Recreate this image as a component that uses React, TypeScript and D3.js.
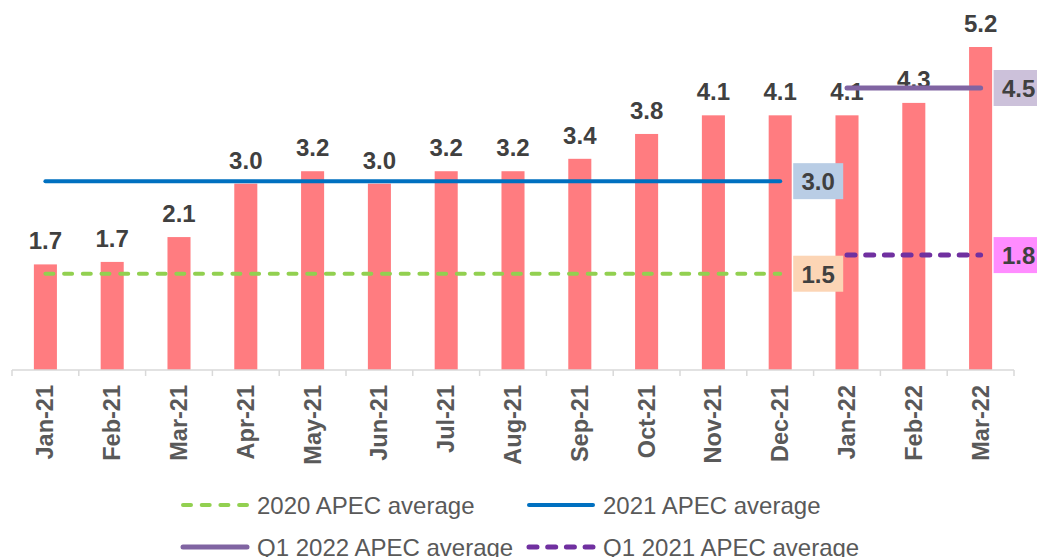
import * as d3 from 'd3';
import { useEffect, useRef } from 'react';

const months = ['Jan-21', 'Feb-21', 'Mar-21', 'Apr-21', 'May-21', 'Jun-21', 'Jul-21', 'Aug-21', 'Sep-21', 'Oct-21', 'Nov-21', 'Dec-21', 'Jan-22', 'Feb-22', 'Mar-22'];
const values = [1.7, 1.74, 2.14, 3.0, 3.2, 3.0, 3.2, 3.2, 3.4, 3.8, 4.1, 4.1, 4.1, 4.3, 5.2];

// average reference lines
const avgNames = ['2020 APEC average', '2021 APEC average', 'Q1 2022 APEC average', 'Q1 2021 APEC average'];
const avgValues = [1.55, 3.04, 4.54, 1.85];
const avgLabels = ['1.5', '3.0', '4.5', '1.8'];
const avgFrom = ['Jan-21', 'Jan-21', 'Jan-22', 'Jan-22'];
const avgTo = ['Dec-21', 'Dec-21', 'Mar-22', 'Mar-22'];

const avgColors = ['#92D050', '#0070C0', '#8064A2', '#7030A0'];
const avgDashed = [true, false, false, true];
const avgWidth = [4, 4, 5, 5];
const boxColors = ['#FCD5B5', '#B9CDE5', '#CCC1DA', '#FF8CFF'];

const FONT = '"Liberation Sans", Arial, sans-serif';

export default function App() {
  const ref = useRef<SVGSVGElement | null>(null);
  useEffect(() => {
    if (!ref.current) return;
    const svg = d3.select(ref.current);
    svg.selectAll('*').remove();
    const width = 1037;
    const height = 557;
    svg.attr('width', width).attr('height', height).attr('viewBox', `0 0 ${width} ${height}`);

    const band = d3.scaleBand<string>().domain(months).range([12, 1014]);
    const barW = band.bandwidth() * 0.345;
    const y = d3.scaleLinear().domain([0, 5.2]).range([370, 47]);
    const cx = (m: string) => (band(m) || 0) + band.bandwidth() / 2;

    // bars
    svg
      .append('g')
      .selectAll('rect')
      .data(months)
      .enter()
      .append('rect')
      .attr('x', (d) => cx(d) - barW / 2)
      .attr('y', (d, i) => y(values[i]))
      .attr('width', barW)
      .attr('height', (d, i) => y(0) - y(values[i]))
      .attr('fill', '#FF7C80');

    // value labels
    svg
      .append('g')
      .selectAll('text')
      .data(months)
      .enter()
      .append('text')
      .attr('x', (d) => cx(d))
      .attr('y', (d, i) => y(values[i]) - 15)
      .attr('text-anchor', 'middle')
      .attr('font-family', FONT)
      .attr('font-weight', 'bold')
      .attr('font-size', 24)
      .attr('fill', '#404040')
      .text((d, i) => values[i].toFixed(1));

    // x axis
    const ax = svg.append('g').attr('transform', `translate(0, ${y(0)})`);
    ax.append('line').attr('x1', 12).attr('x2', 1014).attr('stroke', '#D9D9D9').attr('stroke-width', 1.5);
    const edges = months.map((m) => band(m) || 0).concat([1014]);
    ax.selectAll('line.tick')
      .data(edges)
      .enter()
      .append('line')
      .attr('class', 'tick')
      .attr('x1', (d) => d)
      .attr('x2', (d) => d)
      .attr('y1', 0)
      .attr('y2', 6)
      .attr('stroke', '#D9D9D9')
      .attr('stroke-width', 1.5);
    ax.selectAll('text')
      .data(months)
      .enter()
      .append('text')
      .attr('transform', (d) => `translate(${cx(d) + 8}, 15) rotate(-90)`)
      .attr('text-anchor', 'end')
      .attr('font-family', FONT)
      .attr('font-weight', 'bold')
      .attr('font-size', 23.5)
      .attr('fill', '#595959')
      .text((d) => d);

    // average lines
    avgNames.forEach((name, i) => {
      const x1 = cx(avgFrom[i]);
      const x2 = cx(avgTo[i]);
      const yy = y(avgValues[i]);
      svg
        .append('line')
        .attr('x1', x1)
        .attr('x2', x2)
        .attr('y1', yy)
        .attr('y2', yy)
        .attr('stroke', avgColors[i])
        .attr('stroke-width', avgWidth[i])
        .attr('stroke-linecap', 'round')
        .attr('stroke-dasharray', avgDashed[i] ? '8,10.7' : null);
      const bx = x2 + 13;
      svg
        .append('rect')
        .attr('x', bx)
        .attr('y', yy - 18)
        .attr('width', 50)
        .attr('height', 36)
        .attr('fill', boxColors[i]);
      svg
        .append('text')
        .attr('x', bx + 25)
        .attr('y', yy + 9)
        .attr('text-anchor', 'middle')
        .attr('font-family', FONT)
        .attr('font-weight', 'bold')
        .attr('font-size', 24)
        .attr('fill', '#404040')
        .text(avgLabels[i]);
    });

    // legend
    const legX = [181, 527];
    const legY = [505, 547];
    avgNames.forEach((name, i) => {
      const lx = legX[i % 2];
      const ly = legY[Math.floor(i / 2)];
      svg
        .append('line')
        .attr('x1', lx + 2)
        .attr('x2', lx + 66)
        .attr('y1', ly)
        .attr('y2', ly)
        .attr('stroke', avgColors[i])
        .attr('stroke-width', avgWidth[i])
        .attr('stroke-linecap', 'round')
        .attr('stroke-dasharray', avgDashed[i] ? '8,10.7' : null);
      svg
        .append('text')
        .attr('x', lx + 76)
        .attr('y', ly + 8.5)
        .attr('font-family', FONT)
        .attr('font-size', 24)
        .attr('fill', '#595959')
        .text(name);
    });
  }, []);

  return <svg ref={ref} style={{ position: 'absolute', left: 0, top: 0, overflow: 'hidden', background: '#fff' }} />;
}
